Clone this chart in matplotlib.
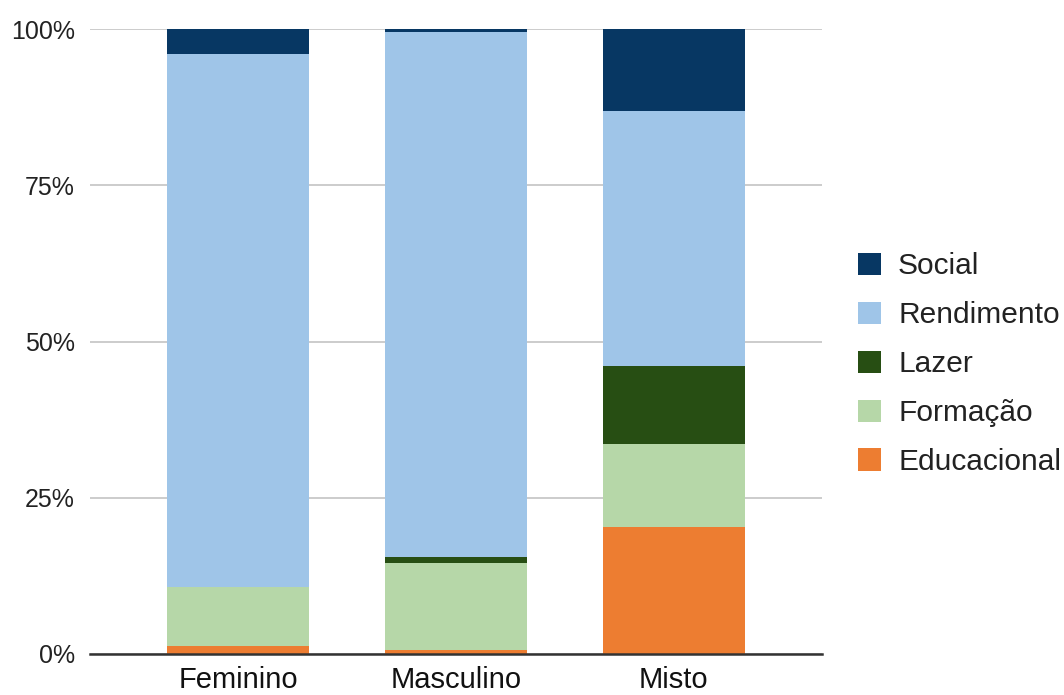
import matplotlib
matplotlib.use("Agg")
import matplotlib.pyplot as plt
from matplotlib.ticker import FuncFormatter

categories = ["Feminino", "Masculino", "Misto"]
series_names = ["Educacional", "Formação", "Lazer", "Rendimento", "Social"]
educacional = [1.3, 0.7, 20.3]
formacao = [9.4, 13.9, 13.3]
lazer = [0.0, 0.9, 12.5]
rendimento = [85.3, 84.1, 40.8]
social = [4.0, 0.4, 13.1]
y_ticks = [0, 25, 50, 75, 100]

colors = {
    "Educacional": "#ed7d31",
    "Formação": "#b6d7a8",
    "Lazer": "#274e13",
    "Rendimento": "#9fc5e8",
    "Social": "#073763",
}

plt.rcParams["font.family"] = ["Liberation Sans", "DejaVu Sans"]

fig = plt.figure(figsize=(10.64, 6.95), dpi=100)
ax = fig.add_axes([0.0846, 0.059, 0.688, 0.899])

values = [educacional, formacao, lazer, rendimento, social]
x = list(range(len(categories)))
bottom = [0.0] * len(categories)
handles = {}
for name, vals in zip(series_names, values):
    bars = ax.bar(x, vals, width=0.65, bottom=bottom, color=colors[name],
                  linewidth=0, zorder=3, label=name)
    handles[name] = bars
    bottom = [b + v for b, v in zip(bottom, vals)]

ax.set_xlim(-0.68, 2.68)
ax.set_ylim(0, 100)
ax.set_yticks(y_ticks)
ax.yaxis.set_major_formatter(FuncFormatter(lambda v, p: f"{int(v)}%"))
ax.grid(axis="y", color="#cccccc", linewidth=1.4, zorder=0)
ax.set_axisbelow(True)
for s in ["top", "right", "left"]:
    ax.spines[s].set_visible(False)
ax.spines["bottom"].set_color("#333333")
ax.spines["bottom"].set_linewidth(1.8)
ax.spines["bottom"].set_zorder(4)
ax.tick_params(axis="y", length=0, pad=11, labelsize=18, labelcolor="#222222")
ax.tick_params(axis="x", length=0, pad=9, labelsize=21, labelcolor="#111111")
ax.set_xticks(x)
ax.set_xticklabels(categories)

order = ["Social", "Rendimento", "Lazer", "Formação", "Educacional"]
leg = fig.legend([handles[n] for n in order], order, loc="center left",
                 bbox_to_anchor=(0.8064, 0.476), frameon=False, fontsize=21.5,
                 handlelength=0.77, handleheight=0.77, handletextpad=0.57,
                 labelspacing=0.70, labelcolor="#222222", borderaxespad=0,
                 borderpad=0)

fig.savefig("out.png", dpi=100)
